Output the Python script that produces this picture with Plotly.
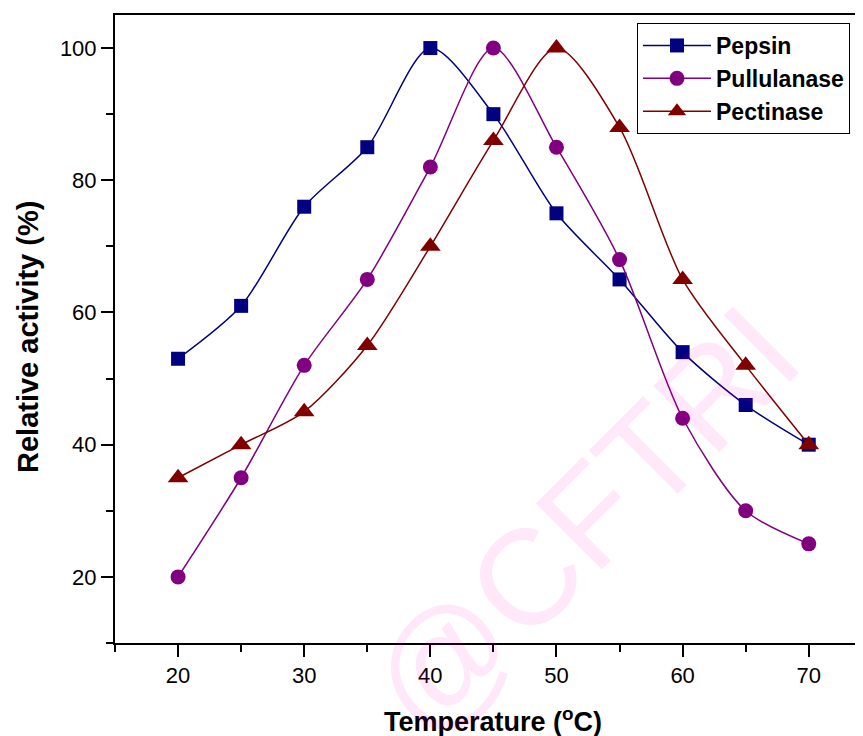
import plotly.graph_objects as go

temperature = [20, 25, 30, 35, 40, 45, 50, 55, 60, 65, 70]
pepsin = [53, 61, 76, 85, 100, 90, 75, 65, 54, 46, 40]
pullulanase = [20, 35, 52, 65, 82, 100, 85, 68, 44, 30, 25]
pectinase = [35, 40, 45, 55, 70, 86, 100, 88, 65, 52, 40]

x_ticks = [20, 30, 40, 50, 60, 70]
y_ticks = [20, 40, 60, 80, 100]

FONT = "Liberation Sans, Arial, sans-serif"

fig = go.Figure()
series = [
    ("Pepsin", pepsin, "#000080", "square", 14),
    ("Pullulanase", pullulanase, "#800080", "circle", 15),
    ("Pectinase", pectinase, "#800000", "triangle-up", 18),
]
for name, vals, color, sym, size in series:
    fig.add_trace(go.Scatter(
        x=temperature, y=vals, name=name, mode="lines+markers",
        line=dict(color=color, width=1.5, shape="spline", smoothing=0.8),
        marker=dict(symbol=sym, size=size, color=color),
    ))

axis_font = dict(family=FONT, size=22, color="black")

OFF = 8  # page body margin
W, H = 863 - OFF, 736 - OFF
L, T, B = 115 - OFF, 15 - OFF, 643 - OFF
PW, PH = W - L, B - T


def px(xw):
    return (xw - OFF - L) / PW


def py(yw):
    return (B - (yw - OFF)) / PH


fig.update_layout(
    width=W, height=H,
    margin=dict(l=L, r=0, t=T, b=H - B, autoexpand=False),
    plot_bgcolor="white", paper_bgcolor="white",
    showlegend=True,
    legend=dict(
        x=px(637), y=py(23), xanchor="left", yanchor="top",
        bordercolor="black", borderwidth=1, bgcolor="white",
        font=dict(family=FONT, size=23, color="black", weight="bold"),
        tracegroupgap=0, itemwidth=68,
    ),
    xaxis=dict(
        range=[15, 74.3], tickvals=x_ticks, ticks="outside", ticklen=12, tickwidth=2,
        showline=True, linecolor="black", linewidth=2, mirror=True, showgrid=False,
        zeroline=False, tickfont=axis_font, automargin=False, tickcolor="black",
        minor=dict(dtick=5, tick0=0, ticks="outside", ticklen=7, tickwidth=2, tickcolor="black"),
    ),
    yaxis=dict(
        range=[10, 105], tickvals=y_ticks, ticks="outside", ticklen=12, tickwidth=2,
        showline=True, linecolor="black", linewidth=2, mirror=False, showgrid=False,
        zeroline=False, tickfont=axis_font, tickcolor="black", automargin=False,
        minor=dict(dtick=10, tick0=0, ticks="outside", ticklen=7, tickwidth=2, tickcolor="black"),
    ),
)

# x-axis title (centred on the full, partly cropped, axis)
fig.add_annotation(
    x=45, y=py(720), xref="x", yref="paper", xanchor="center", yanchor="middle",
    text="Temperature (<sup>o</sup>C)", showarrow=False,
    font=dict(family=FONT, size=27, color="black", weight="bold"),
)
# y-axis title
fig.add_annotation(
    x=px(28), y=py(337), xref="paper", yref="paper",
    xanchor="center", yanchor="middle", textangle=-90,
    text="Relative activity (%)", showarrow=False,
    font=dict(family=FONT, size=29, color="black", weight="bold"),
)
# watermark
fig.add_annotation(
    x=px(584), y=py(521), xref="paper", yref="paper",
    xanchor="center", yanchor="middle",
    text="@CFTRI", showarrow=False, textangle=-45,
    font=dict(family=FONT, size=136, color="rgba(255,0,200,0.09)"),
)

fig.write_html("out.html")
